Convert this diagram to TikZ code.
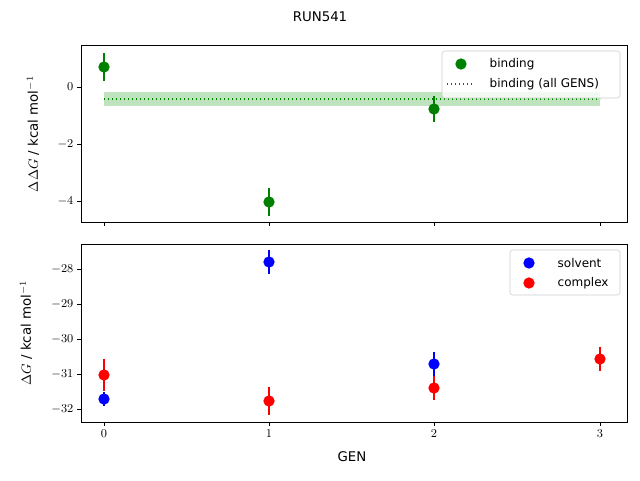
\documentclass[tikz,border=0pt]{standalone}
\usepackage{fontspec}
\setmainfont{DejaVu Sans}
\usetikzlibrary{positioning}
\definecolor{mplgreen}{RGB}{0,128,0}
\definecolor{bandgreen}{RGB}{191,226,191}
\tikzset{
  axisbox/.style={draw=black,line width=0.6pt},
  tick/.style={line width=0.6pt},
  ticklabel/.style={font=\small,inner sep=1pt},
  dot/.style={circle,fill=#1,inner sep=0pt,minimum size=8.5},
  errbar/.style={draw=#1,line width=1.1pt},
}
\begin{document}
\begin{tikzpicture}[x=0.75pt,y=-0.75pt]
    \useasboundingbox (0,0) rectangle (640,480);
    \node[font=\normalsize] (title) at (320,17) {RUN541};

    % top panel: binding free energy
    \fill[bandgreen] (104,92) rectangle (600,106);
    \draw[mplgreen,dotted,line width=1pt] (104,99) -- (600,99);
    \draw[axisbox] (81,45) rectangle (627,222);
    \foreach \yy/\lab in {87/0,144/-2,201/-4}{
      \draw[tick] (81,\yy) -- (77,\yy);
      \node[ticklabel,anchor=east] at (75,\yy) {$\lab$};
    }
    \foreach \xx in {104,269,434,600}
      \draw[tick] (\xx,222) -- (\xx,226);
    \node[rotate=90] (ylabtop) at (33,134) {$\Delta\Delta G$ / kcal mol$^{-1}$};
    \foreach \n/\xx/\yy/\lo/\hi in {b0/104/67/53/81,b1/269/202/188/216,b2/434/109/96/122}{
      \draw[errbar=mplgreen] (\xx,\lo) -- (\xx,\hi);
      \node[dot=mplgreen] (\n) at (\xx,\yy) {};
    }
    % legend top
    \draw[draw=black!20,fill=white,fill opacity=0.8,rounded corners=2] (442,51) rectangle (620,98);
    \node[dot=mplgreen] (lgbind) at (461,64) {};
    \node[anchor=west,font=\small] (lgbindtxt) at (485,64) {binding};
    \draw[mplgreen,dotted,line width=1pt] (447,84) -- (475,84);
    \node[anchor=west,font=\small] (lgalltxt) at (485,84) {binding (all GENS)};

    % bottom panel: free energies
    \draw[axisbox] (81,244) rectangle (627,422);
    \foreach \yy/\lab in {269/-28,304/-29,339/-30,374/-31,409/-32}{
      \draw[tick] (81,\yy) -- (77,\yy);
      \node[ticklabel,anchor=east] at (75,\yy) {$\lab$};
    }
    \foreach \xx/\lab in {104/0,269/1,434/2,600/3}{
      \draw[tick] (\xx,422) -- (\xx,426);
      \node[ticklabel,anchor=north] at (\xx,428) {$\lab$};
    }
    \node[rotate=90] (ylabbot) at (26,333) {$\Delta G$ / kcal mol$^{-1}$};
    \node (xlab) at (352,457) {GEN};
    \foreach \n/\xx/\yy/\lo/\hi in {s0/104/399/392/406,s1/269/262/250/274,s2/434/364/352/376}{
      \draw[errbar=blue] (\xx,\lo) -- (\xx,\hi);
      \node[dot=blue] (\n) at (\xx,\yy) {};
    }
    \foreach \n/\xx/\yy/\lo/\hi in {c0/104/375/359/391,c1/269/401/387/415,c2/434/388/376/400,c3/600/359/347/371}{
      \draw[errbar=red] (\xx,\lo) -- (\xx,\hi);
      \node[dot=red] (\n) at (\xx,\yy) {};
    }
    % legend bottom
    \draw[draw=black!20,fill=white,fill opacity=0.8,rounded corners=2] (510,250) rectangle (620,295);
    \node[dot=blue] (lgsolv) at (529,263) {};
    \node[anchor=west,font=\small] (lgsolvtxt) at (553,263) {solvent};
    \node[dot=red] (lgcomp) at (529,283) {};
    \node[anchor=west,font=\small] (lgcomptxt) at (553,283) {complex};
\end{tikzpicture}
\end{document}
